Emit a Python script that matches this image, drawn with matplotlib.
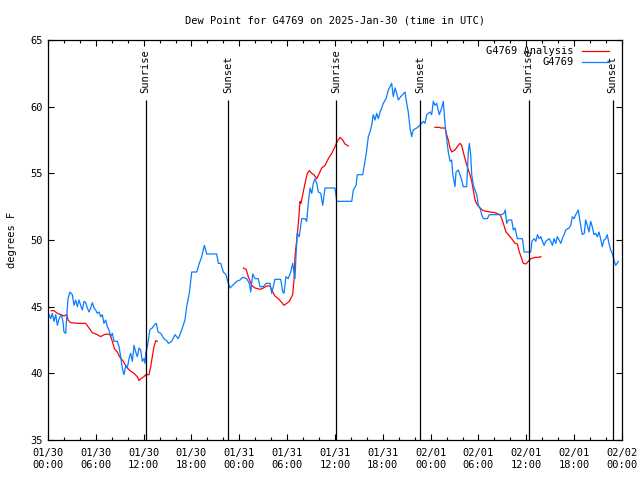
import pandas as pd
import matplotlib
matplotlib.use("Agg")
import matplotlib.pyplot as plt
import matplotlib.dates as mdates

plt.rcParams['font.family'] = ['DejaVu Sans Mono']
plt.rcParams['font.size'] = 7

start = pd.Timestamp("2025-01-30 00:00")

# station observations: hours since start, dew point (F)
obs_hours = [
    0.0, 0.34, 0.54, 0.75, 0.97, 1.17, 1.38, 1.67, 1.88, 2.0, 2.22, 2.35, 2.51, 2.76, 3.05,
    3.26, 3.47, 3.68, 3.89, 4.10, 4.30, 4.52, 4.73, 4.93, 5.14, 5.36, 5.56, 5.77, 5.98, 6.18,
    6.40, 6.61, 6.81, 7.02, 7.24, 7.44, 7.65, 7.87, 8.07, 8.28, 8.69, 8.91, 9.12, 9.32, 9.53,
    9.75, 9.95, 10.16, 10.37, 10.58, 10.79, 11.0, 11.20, 11.42, 11.63, 11.83, 12.04, 12.17, 12.26, 12.46,
    12.80, 13.08, 13.30, 13.59, 13.80, 14.14, 14.55, 14.97, 15.09, 15.52, 15.93, 16.34, 16.77, 17.18, 17.39,
    17.72, 18.03, 18.65, 18.98, 19.28, 19.61, 19.91, 21.16, 21.36, 21.66, 21.99, 22.33, 22.62, 22.83, 23.17,
    23.67, 24.08, 24.42, 24.92, 25.25, 25.43, 25.68, 25.97, 26.38, 26.59, 27.01, 27.35, 27.85, 28.06, 28.47,
    29.19, 29.44, 29.60, 29.85, 30.14, 30.44, 30.69, 30.98, 31.11, 31.27, 31.52, 31.82, 32.24, 32.45, 32.65,
    32.87, 33.08, 33.28, 33.49, 33.71, 33.91, 34.21, 34.46, 34.75, 36.0, 36.22, 38.10, 38.30, 38.64, 38.80,
    39.48, 39.76, 39.98, 40.18, 40.39, 40.60, 40.80, 41.02, 41.23, 41.43, 41.65, 41.86, 42.06, 42.40, 42.69,
    42.90, 43.11, 43.31, 43.53, 43.74, 43.94, 44.24, 44.49, 44.78, 45.00, 45.19, 45.41, 45.62, 45.82, 46.25,
    46.66, 47.08, 47.29, 47.50, 47.92, 48.13, 48.33, 48.54, 48.76, 49.08, 49.38, 49.58, 49.71, 49.84, 50.01,
    50.21, 50.43, 50.64, 50.76, 51.05, 51.18, 51.47, 51.68, 51.89, 52.09, 52.52, 52.72, 52.85, 53.02, 53.15,
    53.35, 53.56, 53.78, 53.98, 54.19, 54.40, 54.61, 55.11, 55.36, 56.91, 57.20, 57.36, 57.54, 57.74, 58.16,
    58.37, 58.58, 58.87, 59.51, 59.72, 60.56, 60.69, 60.98, 61.19, 61.40, 61.61, 61.82, 62.02, 62.23, 62.44,
    62.86, 63.07, 63.27, 63.48, 63.69, 63.89, 64.11, 64.32, 64.52, 64.73, 64.94, 65.36, 65.57, 65.77, 65.99,
    66.20, 66.52, 66.73, 67.02, 67.27, 67.44, 67.65, 67.86, 68.07, 68.27, 68.48, 68.69, 68.90, 69.11, 69.32,
    69.52, 69.74, 69.95, 70.15, 70.36, 70.58, 70.78, 70.99, 71.20, 71.41, 71.53,
]
obs_dewpt = [
    44.6, 44.1, 44.5, 43.9, 44.4, 43.6, 44.1, 44.4, 43.9, 43.1, 43.0, 44.25, 45.6, 46.1, 45.9,
    45.1, 45.5, 45.0, 45.5, 45.1, 44.75, 45.4, 45.3, 44.9, 44.6, 44.9, 45.3, 44.9, 44.75, 44.5,
    44.6, 44.25, 44.4, 43.75, 44.0, 43.5, 43.25, 42.75, 43.0, 42.4, 42.4, 42.0, 41.25, 40.4, 39.9,
    40.6, 40.4, 41.1, 41.5, 40.9, 42.1, 41.6, 41.25, 41.9, 41.75, 40.9, 41.1, 40.75, 41.5, 42.0,
    43.3, 43.4, 43.6, 43.75, 43.1, 43.0, 42.6, 42.4, 42.25, 42.4, 42.9, 42.6, 43.25, 44.0, 45.0,
    46.0, 47.6, 47.6, 48.25, 48.75, 49.6, 48.95, 48.95, 48.25, 48.25, 47.6, 47.4, 46.75, 46.4, 46.6,
    46.9, 47.0, 47.2, 47.1, 46.75, 46.1, 47.45, 47.1, 47.1, 46.5, 46.5, 46.75, 46.75, 46.0, 47.05,
    47.05, 46.1, 46.0, 47.25, 47.1, 47.6, 48.25, 47.1, 48.9, 50.5, 50.25, 51.6, 51.6, 51.4, 52.75,
    53.9, 53.5, 54.25, 54.6, 54.25, 53.6, 53.5, 52.6, 53.9, 53.9, 52.9, 52.9, 53.75, 54.1, 54.9,
    54.9, 55.9, 56.75, 57.75, 58.1, 58.6, 59.4, 59.0, 59.5, 59.1, 59.6, 59.9, 60.25, 60.6, 61.25,
    61.5, 61.75, 60.75, 61.4, 61.0, 60.5, 60.75, 60.9, 61.1, 60.25, 59.6, 58.4, 57.75, 58.25, 58.4,
    58.6, 58.9, 58.75, 59.4, 59.6, 59.4, 60.4, 60.1, 60.25, 59.4, 59.9, 60.4, 59.4, 58.4, 57.6,
    56.6, 55.9, 56.0, 55.0, 54.0, 55.1, 55.25, 54.9, 54.5, 54.0, 54.0, 56.6, 57.25, 56.4, 54.9,
    54.1, 53.75, 53.4, 52.6, 52.4, 51.9, 51.6, 51.6, 51.9, 51.9, 52.0, 52.25, 51.25, 51.5, 51.5,
    50.75, 50.9, 50.1, 50.1, 49.1, 49.1, 49.9, 50.1, 49.9, 50.4, 50.1, 50.25, 49.9, 49.6, 49.9,
    50.1, 49.9, 49.6, 50.1, 49.75, 50.25, 50.0, 49.75, 50.1, 50.4, 50.75, 50.9, 51.1, 51.75, 51.6,
    51.9, 52.25, 51.4, 50.4, 50.5, 51.5, 51.1, 50.6, 51.4, 51.0, 50.4, 50.5, 50.25, 50.6, 50.1,
    49.5, 50.0, 50.1, 50.4, 49.75, 49.25, 49.0, 48.5, 48.1, 48.25, 48.4,
]

# analysis segments: hours since start, dew point (F)
ana1_hours = [0.41, 0.75, 1.17, 1.59, 2.0, 2.35, 2.51, 2.85, 3.68, 4.73, 5.14, 5.56, 6.18, 6.61, 7.02,
              7.44, 7.78, 8.07, 8.37, 8.69, 9.03, 9.45, 9.87, 10.29, 10.79, 11.20, 11.42, 11.63, 12.04, 12.26,
              12.67, 12.88, 13.08, 13.30, 13.51, 13.71]
ana1_dewpt = [44.7, 44.7, 44.5, 44.4, 44.3, 44.4, 44.0, 43.8, 43.75, 43.75, 43.4, 43.05, 42.9, 42.75, 42.9,
              42.95, 42.9, 42.4, 41.8, 41.6, 41.2, 40.9, 40.45, 40.2, 40.0, 39.75, 39.45, 39.6, 39.75, 39.9,
              39.9, 40.5, 41.25, 42.0, 42.45, 42.4]
ana2_hours = [24.50, 24.84, 25.13, 25.55, 25.97, 26.59, 27.01, 27.43, 27.85, 28.06, 28.47, 28.89, 29.19, 29.60, 29.94,
              30.27, 30.69, 30.86, 30.98, 31.20, 31.40, 31.61, 31.74, 31.95, 32.24, 32.53, 32.78, 33.08, 33.37, 33.71,
              34.03, 34.33, 34.75, 35.16, 35.59, 36.0, 36.29, 36.63, 36.97, 37.25, 37.67]
ana2_dewpt = [47.9, 47.8, 47.25, 46.6, 46.4, 46.3, 46.4, 46.55, 46.55, 46.25, 45.8, 45.6, 45.4, 45.1, 45.25,
              45.4, 45.9, 47.0, 48.75, 50.0, 51.25, 52.9, 52.75, 53.4, 54.25, 55.0, 55.2, 55.0, 54.9, 54.6,
              55.0, 55.4, 55.6, 56.1, 56.5, 57.0, 57.4, 57.7, 57.5, 57.2, 57.05]
ana3_hours = [48.54, 49.08, 49.26, 49.80, 50.01, 50.21, 50.43, 50.64, 51.05, 51.34, 51.68, 51.89, 52.09, 52.39, 52.64,
              52.93, 53.15, 53.35, 53.56, 53.78, 54.19, 54.61, 55.44, 56.07, 56.70, 56.91, 57.11, 57.45, 57.74, 58.16,
              58.58, 58.87, 59.12, 59.42, 59.62, 59.96, 60.25, 60.56, 61.10, 61.52, 61.82]
ana3_dewpt = [58.45, 58.45, 58.4, 58.4, 57.9, 57.5, 56.9, 56.6, 56.75, 57.0, 57.25, 57.1, 56.6, 55.9, 55.4,
              54.9, 54.4, 53.75, 53.0, 52.7, 52.4, 52.2, 52.1, 52.05, 51.9, 51.6, 51.25, 50.6, 50.4, 50.1,
              49.75, 49.7, 49.1, 48.6, 48.25, 48.2, 48.4, 48.6, 48.7, 48.7, 48.75]

sun_hours = [12.23, 22.58, 36.13, 46.66, 60.29, 70.83]
sun_labels = ["Sunrise", "Sunset", "Sunrise", "Sunset", "Sunrise", "Sunset"]


def to_time(hours):
    return [start + pd.Timedelta(hours=h) for h in hours]


red = '#ff0000'
blue = '#0a7cff'

fig = plt.figure(figsize=(6.4, 4.8), dpi=100)
ax = fig.add_axes([48 / 640, 40 / 480, 574 / 640, 400 / 480])

ax.plot(to_time(ana1_hours), ana1_dewpt, color=red, lw=0.9, label="G4769 Analysis")
ax.plot(to_time(ana2_hours), ana2_dewpt, color=red, lw=0.9)
ax.plot(to_time(ana3_hours), ana3_dewpt, color=red, lw=0.9)
ax.plot(to_time(obs_hours), obs_dewpt, color=blue, lw=0.9, label="G4769")

for h, lab in zip(sun_hours, sun_labels):
    t = start + pd.Timedelta(hours=h)
    ax.vlines(t, 35, 60.5, color='black', lw=0.9)
    ax.text(t, 61.0, lab, rotation=90, ha='center', va='bottom', fontsize=7.5)

ax.set_xlim(start, start + pd.Timedelta(hours=72))
ax.set_ylim(35, 65)
ax.set_yticks(range(35, 66, 5))
ax.xaxis.set_major_locator(mdates.HourLocator(byhour=[0, 6, 12, 18]))
ax.xaxis.set_minor_locator(mdates.HourLocator(interval=2))
ax.xaxis.set_major_formatter(mdates.DateFormatter("%m/%d\n%H:%M"))
ax.tick_params(which='both', direction='in', top=True, right=True, width=0.8, labelsize=7.5)
ax.tick_params(which='major', length=4.5)
ax.tick_params(which='minor', length=2.5)
ax.tick_params(axis='x', pad=6)
for sp in ax.spines.values():
    sp.set_linewidth(0.9)

ax.set_title("Dew Point for G4769 on 2025-Jan-30 (time in UTC)", fontsize=7.5, pad=12)
ax.set_ylabel("degrees F", fontsize=7.5, labelpad=10)

ax.legend(loc='upper right', bbox_to_anchor=(0.988, 1.0), frameon=False, markerfirst=False,
          handlelength=2.6, fontsize=7.5, borderaxespad=0.2, labelspacing=0.1, handletextpad=0.8)

fig.savefig("out.png", dpi=100)
